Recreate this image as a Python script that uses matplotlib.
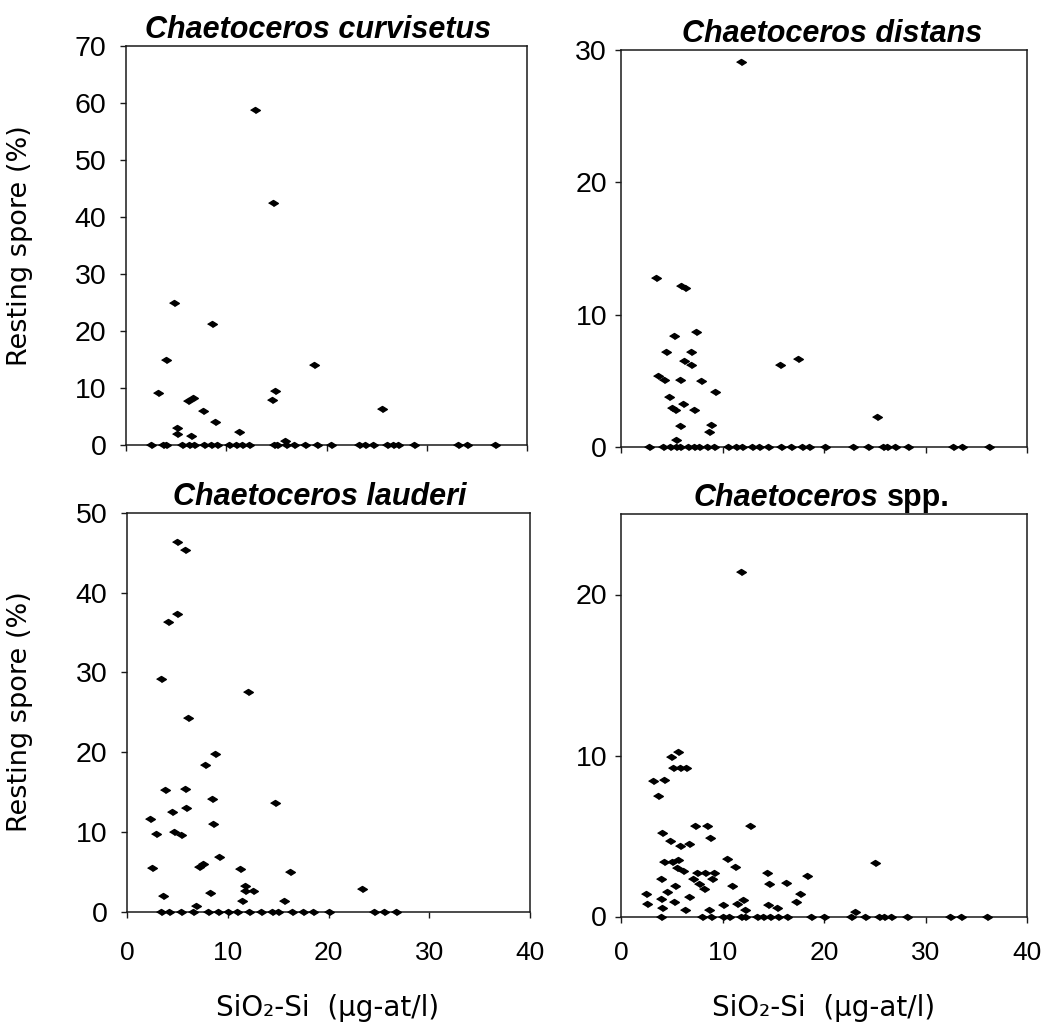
import matplotlib
matplotlib.use('Agg')
import matplotlib.pyplot as plt

# Chaetoceros curvisetus: SiO2-Si (ug-at/l) vs resting spore (%)
curv_si = [12.9, 14.7, 4.8, 8.6, 4.0, 18.8, 3.2, 14.9, 14.6, 6.7,
           6.2, 7.7, 8.9, 25.5, 5.1, 5.1, 6.5, 11.3, 15.9]
curv_spore = [58.8, 42.5, 24.9, 21.2, 15.0, 14.0, 9.2, 9.4, 7.9, 8.3,
              7.7, 6.0, 4.0, 6.3, 2.9, 2.0, 1.5, 2.2, 0.7]
curv_si_zero = [2.5, 3.7, 4.0, 5.6, 6.3, 6.8, 7.8, 8.5, 9.1, 10.3,
                11.0, 11.6, 12.3, 14.8, 15.1, 16.0, 16.8, 17.9, 19.1, 20.4,
                23.2, 23.8, 24.6, 26.0, 26.6, 27.1, 28.7, 33.1, 34.0, 36.8]

# Chaetoceros distans
dist_si = [11.8, 3.4, 5.9, 6.3, 5.2, 7.4, 4.4, 6.9, 6.2, 6.9,
           15.7, 17.4, 3.6, 4.2, 5.8, 7.9, 9.3, 4.7, 5.0, 5.3,
           6.1, 7.2, 5.8, 8.9, 8.7, 5.4, 25.2]
dist_spore = [29.1, 12.8, 12.2, 12.0, 8.4, 8.7, 7.2, 7.2, 6.5, 6.2,
              6.2, 6.7, 5.4, 5.1, 5.1, 5.0, 4.2, 3.8, 3.0, 2.8,
              3.3, 2.8, 1.6, 1.7, 1.2, 0.6, 2.3]
dist_si_zero = [2.8, 4.1, 4.8, 5.4, 5.8, 6.6, 7.2, 7.7, 8.5, 9.2,
                10.5, 11.3, 11.9, 12.9, 13.6, 14.5, 15.8, 16.7, 17.8, 18.5,
                20.1, 22.9, 24.3, 25.8, 26.2, 27.0, 28.3, 32.7, 33.6, 36.3]

# Chaetoceros lauderi
laud_si = [5.0, 5.8, 4.95, 4.1, 3.4, 12.0, 6.1, 8.7, 7.7, 3.8,
           5.8, 8.4, 14.7, 4.5, 5.9, 2.3, 8.5, 2.9, 4.7, 5.4,
           9.1, 2.5, 7.1, 7.5, 11.2, 16.2, 3.6, 8.2, 11.7, 11.7,
           12.5, 23.3, 11.4, 15.6, 6.8]
laud_spore = [46.4, 45.3, 37.3, 36.3, 29.2, 27.5, 24.3, 19.8, 18.4, 15.2,
              15.4, 14.1, 13.6, 12.5, 13.0, 11.6, 11.0, 9.7, 10.0, 9.6,
              6.9, 5.5, 5.6, 6.0, 5.3, 4.9, 2.0, 2.3, 3.2, 2.6,
              2.6, 2.8, 1.3, 1.3, 0.7]
laud_si_zero = [3.4, 4.2, 5.4, 6.6, 8.0, 9.0, 10.0, 10.9, 12.1, 13.3,
                14.4, 15.0, 16.4, 17.5, 18.5, 20.0, 24.5, 25.5, 26.7]

# Chaetoceros spp.
spp_si = [11.8, 5.6, 4.9, 5.1, 5.8, 6.4, 3.2, 4.2, 3.6, 4.0,
          4.8, 5.8, 6.7, 7.3, 8.5, 8.8, 12.7, 4.2, 5.0, 5.6,
          5.5, 6.1, 10.4, 11.2, 14.4, 25.0, 7.5, 8.3, 9.2, 7.1,
          9.0, 7.7, 8.2, 3.9, 5.3, 10.9, 14.6, 16.3, 18.3, 2.5,
          4.5, 17.6, 17.2, 3.9, 6.7, 2.6, 5.2, 10.0, 12.0, 11.4,
          14.5, 15.4, 4.0, 6.3, 8.7, 12.2, 23.1]
spp_spore = [21.4, 10.2, 9.9, 9.2, 9.2, 9.2, 8.4, 8.5, 7.5, 5.2,
             4.7, 4.4, 4.5, 5.6, 5.6, 4.9, 5.6, 3.4, 3.4, 3.5,
             3.0, 2.8, 3.6, 3.1, 2.7, 3.3, 2.7, 2.7, 2.7, 2.3,
             2.3, 2.0, 1.7, 2.3, 1.9, 1.9, 2.0, 2.1, 2.5, 1.4,
             1.5, 1.4, 0.9, 1.1, 1.2, 0.8, 0.9, 0.7, 1.0, 0.8,
             0.7, 0.5, 0.5, 0.4, 0.4, 0.4, 0.3]
spp_si_zero = [3.9, 8.0, 8.9, 10.0, 10.6, 11.8, 12.2, 13.4, 14.0, 14.7,
               15.5, 16.4, 18.7, 20.0, 22.7, 24.0, 25.4, 25.9, 26.6, 28.2,
               32.4, 33.5, 36.1]

x_ticks = [0, 10, 20, 30, 40]
x_label = 'SiO\u2082-Si  (\u00b5g-at/l)'
y_label = 'Resting spore (%)'

W, H = 1044, 1030
fig = plt.figure(figsize=(W / 100, H / 100), dpi=100)
fig.patch.set_facecolor('white')

# flat diamond, as in the original print
diamond = [(-1, 0), (0, 0.62), (1, 0), (0, -0.62)]
tick_font = ['Liberation Sans', 'DejaVu Sans']
label_font = ['DejaVu Sans']


def add_panel(l, r, t, b):
    return fig.add_axes([l / W, 1 - b / H, (r - l) / W, (b - t) / H])


def draw(ax, si, spore, si_zero, ymax, yticks, ypad, bottom_row, xpad):
    ax.plot(si, spore, linestyle='none', marker=diamond, ms=7,
            color='black', clip_on=False, zorder=3)
    ax.plot(si_zero, [0] * len(si_zero), linestyle='none', marker=diamond,
            ms=7, color='black', clip_on=False, zorder=3)
    ax.set_xlim(0, 40)
    ax.set_ylim(0, ymax)
    ax.set_xticks(x_ticks)
    ax.set_yticks(yticks)
    for sp in ax.spines.values():
        sp.set_linewidth(1.1)
        sp.set_color('#1a1a1a')
    ax.tick_params(direction='out', length=4, width=1, color='#1a1a1a')
    ax.tick_params(axis='y', pad=ypad, labelsize=20.5)
    if bottom_row:
        ax.tick_params(axis='x', pad=xpad, labelsize=19)
    else:
        ax.tick_params(axis='x', labelbottom=False)
    for lab in ax.get_xticklabels() + ax.get_yticklabels():
        lab.set_family(tick_font)


def title(ax, frac, text):
    ax.annotate(text, xy=(frac, 1), xycoords='axes fraction',
                xytext=(0, 6), textcoords='offset points',
                ha='center', va='baseline', fontsize=22,
                fontweight='bold', fontstyle='italic', family=tick_font)


ax1 = add_panel(126, 527, 46, 445)
draw(ax1, curv_si, curv_spore, curv_si_zero, 70, range(0, 71, 10), 10, False, 0)
title(ax1, 0.48, 'Chaetoceros curvisetus')

ax2 = add_panel(621, 1027, 50, 447.5)
draw(ax2, dist_si, dist_spore, dist_si_zero, 30, [0, 10, 20, 30], 6, False, 0)
title(ax2, 0.52, 'Chaetoceros distans')

ax3 = add_panel(127, 530, 513, 911.5)
draw(ax3, laud_si, laud_spore, laud_si_zero, 50, range(0, 51, 10), 10, True, 17)
title(ax3, 0.478, 'Chaetoceros lauderi')

ax4 = add_panel(621, 1027, 514, 916.5)
draw(ax4, spp_si, spp_spore, spp_si_zero, 25, [0, 10, 20], 6, True, 14)
genus = ax4.annotate('Chaetoceros', xy=(0.635, 1), xycoords='axes fraction',
                     xytext=(0, 6), textcoords='offset points',
                     ha='right', va='baseline', fontsize=22,
                     fontweight='bold', fontstyle='italic', family=tick_font)
ax4.annotate('spp.', xy=(1, 0), xycoords=genus, xytext=(6, 0),
             textcoords='offset points', ha='left', va='bottom',
             fontsize=22, fontweight='bold', family=tick_font)

# shared axis labels
for yc in (245.5, 712):
    fig.text(20 / W, 1 - yc / H, y_label, rotation=90, ha='center',
             va='center', fontsize=19.5, family=label_font)
for xc in (328, 824):
    fig.text(xc / W, 1 - 1008 / H, x_label, ha='center', va='center',
             fontsize=20, family=label_font)

fig.savefig('out.png', dpi=100, facecolor='white')
